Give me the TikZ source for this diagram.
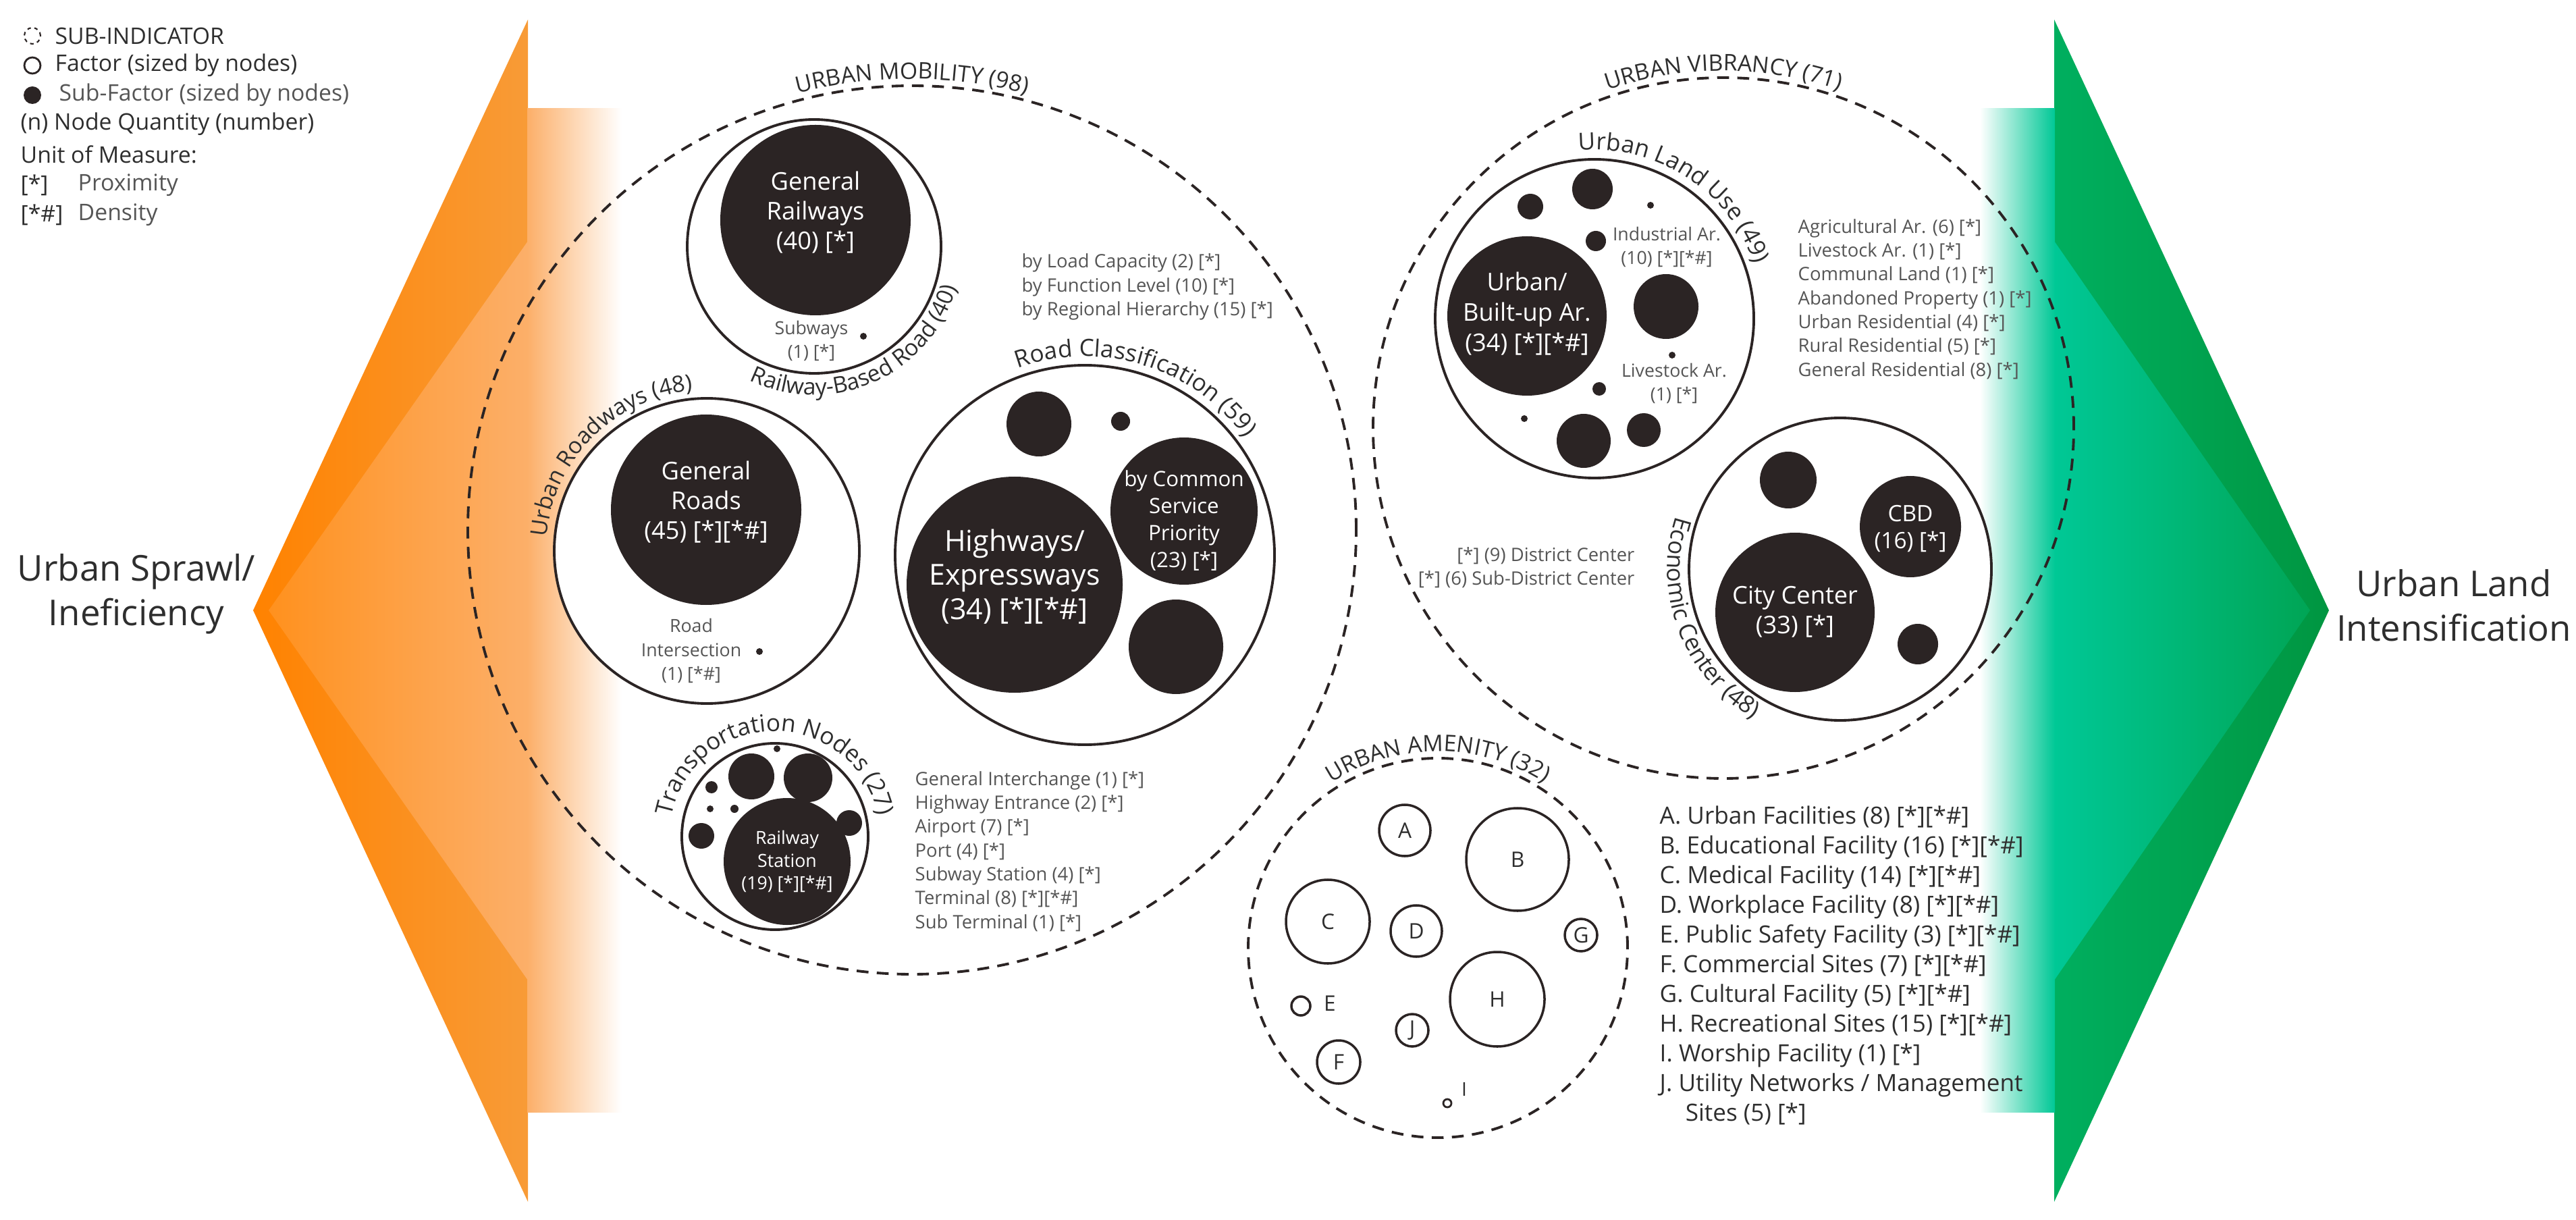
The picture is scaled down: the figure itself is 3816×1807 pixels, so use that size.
\documentclass[tikz,border=0pt]{standalone}
\usepackage{fontspec}
\setmainfont{Open Sans}
\usetikzlibrary{decorations.text}
\definecolor{blk}{HTML}{2B2424}
\definecolor{txt}{HTML}{2E2E2E}
\definecolor{gry}{HTML}{555555}
\newcommand\fsz[2]{\fontsize{#1pt}{#2pt}\selectfont}
\begin{document}
\begin{tikzpicture}[x=0.01cm,y=0.01cm,
  dsh/.style={dash pattern=on 5pt off 3.5pt, line width=1.1pt, draw=blk},
  fac/.style={line width=1.1pt, draw=blk, fill=white},
  sub/.style={fill=blk},
  wt/.style={text=white, align=center, inner sep=0pt},
  sm/.style={text=gry, align=center, inner sep=0pt, font=\fsz{7.6}{10}},
  lst/.style={text=gry, align=left, inner sep=0pt, font=\fsz{7.8}{10.05}, anchor=west},
  lg/.style={text=txt, inner sep=0pt, anchor=west, font=\fsz{9.6}{12}},
  ttl/.style={decorate, decoration={text along path, text align=center, text color=txt}}
]
\useasboundingbox (0,0) rectangle (3816,-1807);
% ---------- orange chevron ----------
\shade[left color={rgb,255:red,255;green,130;blue,0}, right color={rgb,255:red,248;green,155;blue,55}] (782,-29) -- (375,-904) -- (782,-1780) -- cycle;
\shade[left color={rgb,255:red,255;green,145;blue,30}, right color={rgb,255:red,252;green,175;blue,105}] (782,-357) -- (398,-904) -- (782,-1452) -- cycle;
\shade[left color={rgb,255:red,252;green,175;blue,105}, right color=white] (781,-161) rectangle (921,-1647);
% ---------- green chevron ----------
\shade[left color={rgb,255:red,0;green,175;blue,95}, right color={rgb,255:red,0;green,150;blue,65}] (3043,-29) -- (3450,-904) -- (3043,-1780) -- cycle;
\shade[left color={rgb,255:red,0;green,200;blue,150}, right color={rgb,255:red,0;green,165;blue,85}] (3043,-357) -- (3422,-904) -- (3043,-1452) -- cycle;
\shade[left color=white, right color={rgb,255:red,0;green,200;blue,150}] (2933,-161) rectangle (3044,-1647);
% ---------- side labels ----------
\node[text=txt, align=center, font=\fsz{15}{18.8}] (sprawl) at (202,-880) {Urban Sprawl/\\Ineficiency};
\node[text=txt, align=center, font=\fsz{15}{18.8}] (intens) at (3635,-897) {Urban Land\\Intensification};
% ---------- legend ----------
\draw[blk, line width=0.6pt, dash pattern=on 1.5pt off 1.5pt] (48,-53) circle[radius=12];
\draw[blk, line width=0.8pt] (48,-97) circle[radius=12];
\fill[blk] (48,-141) circle[radius=13];
\node[lg] (l1) at (81,-53) {SUB-INDICATOR};
\node[lg] (l2) at (81,-97) {Factor (sized by nodes)};
\node[lg, text=gry] (l3) at (87,-141) {Sub-Factor (sized by nodes)};
\node[lg] (l4) at (30,-184) {(n) Node Quantity (number)};
\node[lg] (l5) at (30,-229) {Unit of Measure:};
\node[lg] (l6) at (30,-274) {[*]};
\node[lg, text=gry] (l6b) at (115,-274) {Proximity};
\node[lg] (l7) at (30,-318) {[*\#]};
\node[lg, text=gry] (l7b) at (115,-318) {Density};
% ---------- URBAN MOBILITY ----------
\draw[dsh] (1351,-785) circle[radius=658];
\path[ttl, decoration={text={|\fsz{9.6}{11}|URBAN MOBILITY (98)}}] (1351,-785) ++(120:668) arc[start angle=120, end angle=60, radius=668];
% railway-based road
\draw[fac] (1206,-365) circle[radius=188];
\fill[sub] (1208,-326) circle[radius=141];
\node[wt, font=\fsz{10.3}{12.5}] (genrail) at (1208,-315) {General\\Railways\\(40) [*]};
\fill[sub] (1279,-498) circle[radius=5];
\node[sm] (subw) at (1202,-505) {Subways\\(1) [*]};
\path[ttl, decoration={text={|\fsz{9.6}{11}|Railway-Based Road (40)}}] (1206,-365) ++(-118:220) arc[start angle=-118, end angle=-14, radius=220];
% urban roadways
\draw[fac] (1047,-816) circle[radius=226];
\fill[sub] (1046,-755) circle[radius=141];
\node[wt, font=\fsz{10.3}{12.5}] (genroad) at (1046,-744) {General\\Roads\\(45) [*][*\#]};
\fill[sub] (1125,-965) circle[radius=5];
\node[sm] (rint) at (1024,-964) {Road\\Intersection\\(1) [*\#]};
\path[ttl, decoration={text={|\fsz{9.6}{11}|Urban Roadways (48)}}] (1047,-816) ++(178:238) arc[start angle=178, end angle=92, radius=238];
% road classification
\draw[fac] (1607,-822) circle[radius=281];
\fill[sub] (1503,-866) circle[radius=160];
\node[wt, font=\fsz{12.2}{14.4}] (hwy) at (1503,-854) {Highways/\\Expressways\\(34) [*][*\#]};
\fill[sub] (1754,-757) circle[radius=109];
\node[wt, font=\fsz{8.9}{11.3}] (csp) at (1754,-771) {by Common\\Service\\Priority\\(23) [*]};
\fill[sub] (1742,-958) circle[radius=70];
\fill[sub] (1539,-628) circle[radius=48];
\fill[sub] (1660,-624) circle[radius=14];
\node[lst] (rclist) at (1513,-425) {by Load Capacity (2) [*]\\by Function Level (10) [*]\\by Regional Hierarchy (15) [*]};
\path[ttl, decoration={text={|\fsz{10}{11}|Road Classification (59)}}] (1607,-822) ++(118:294) arc[start angle=118, end angle=28, radius=294];
% transportation nodes
\draw[fac] (1148,-1239) circle[radius=138];
\fill[sub] (1166,-1276) circle[radius=94];
\node[wt, font=\fsz{7.6}{9.5}] (rst) at (1166,-1276) {Railway\\Station\\(19) [*][*\#]};
\fill[sub] (1113,-1150) circle[radius=34];
\fill[sub] (1197,-1152) circle[radius=36];
\fill[sub] (1039,-1238) circle[radius=19];
\fill[sub] (1258,-1219) circle[radius=19];
\fill[sub] (1054,-1166) circle[radius=9];
\fill[sub] (1052,-1198) circle[radius=5];
\fill[sub] (1088,-1198) circle[radius=6];
\fill[sub] (1151,-1109) circle[radius=5];
\node[lst] (tnlist) at (1355,-1261) {General Interchange (1) [*]\\Highway Entrance (2) [*]\\Airport (7) [*]\\Port (4) [*]\\Subway Station (4) [*]\\Terminal (8) [*][*\#]\\Sub Terminal (1) [*]};
\path[ttl, decoration={text={|\fsz{10}{11}|Transportation Nodes (27)}}] (1148,-1239) ++(168:156) arc[start angle=168, end angle=12, radius=156];
% ---------- URBAN VIBRANCY ----------
\draw[dsh] (2553,-634) circle[radius=519];
\path[ttl, decoration={text={|\fsz{9.6}{11}|URBAN VIBRANCY (71)}}] (2553,-634) ++(120:529) arc[start angle=120, end angle=60, radius=529];
% urban land use
\draw[fac] (2362,-472) circle[radius=236];
\fill[sub] (2262,-468) circle[radius=118];
\node[wt, font=\fsz{10.3}{12.8}] (ubu) at (2262,-465) {Urban/\\Built-up Ar.\\(34) [*][*\#]};
\node[sm] (ind) at (2469,-366) {Industrial Ar.\\(10) [*][*\#]};
\node[sm] (liv) at (2480,-568) {Livestock Ar.\\(1) [*]};
\fill[sub] (2445,-304) circle[radius=5];
\fill[sub] (2477,-526) circle[radius=5];
\fill[sub] (2267,-306) circle[radius=19];
\fill[sub] (2359,-280) circle[radius=30];
\fill[sub] (2364,-357) circle[radius=15];
\fill[sub] (2468,-454) circle[radius=48];
\fill[sub] (2369,-576) circle[radius=10];
\fill[sub] (2258,-620) circle[radius=5];
\fill[sub] (2346,-653) circle[radius=40];
\fill[sub] (2435,-637) circle[radius=25];
\node[lst] (lulist) at (2663,-443) {Agricultural Ar. (6) [*]\\Livestock Ar. (1) [*]\\Communal Land (1) [*]\\Abandoned Property (1) [*]\\Urban Residential (4) [*]\\Rural Residential (5) [*]\\General Residential (8) [*]};
\path[ttl, decoration={text={|\fsz{10}{11}|Urban Land Use (49)}}] (2362,-472) ++(104:250) arc[start angle=104, end angle=10, radius=250];
% economic center
\draw[fac] (2726,-843) circle[radius=224];
\fill[sub] (2659,-907) circle[radius=118];
\node[wt, font=\fsz{10.3}{12.3}] (cc) at (2659,-906) {City Center\\(33) [*]};
\fill[sub] (2830,-780) circle[radius=75];
\node[wt, font=\fsz{9.5}{11.4}] (cbd) at (2830,-783) {CBD\\(16) [*]};
\fill[sub] (2649,-711) circle[radius=42];
\fill[sub] (2841,-954) circle[radius=30];
\node[lst, anchor=east, align=right] (dc) at (2422,-841) {[*] (9) District Center\\{}[*] (6) Sub-District Center};
\path[ttl, decoration={text={|\fsz{10}{11}|Economic Center (48)}}] (2726,-843) ++(150:256) arc[start angle=150, end angle=252, radius=256];
% ---------- URBAN AMENITY ----------
\draw[dsh] (2130,-1404) circle[radius=281];
\path[ttl, decoration={text={|\fsz{9.6}{11}|URBAN AMENITY (32)}}] (2130,-1404) ++(128:291) arc[start angle=128, end angle=52, radius=291];
\foreach \n/\x/\y/\r in {A/2081/1230/38, B/2248/1273/76, C/1967/1365/62, D/2098/1379/38, G/2342/1385/24, H/2218/1480/70, J/2092/1526/24, F/1983/1573/32}{
  \draw[blk, line width=1pt] (\x,-\y) circle[radius=\r];
  \node[text=txt, inner sep=0pt, font=\fsz{9}{11}] (am\n) at (\x,-\y) {\n};
}
\draw[blk, line width=1pt] (1927,-1490) circle[radius=14];
\node[text=txt, inner sep=0pt, font=\fsz{9}{11}] (amE) at (1970,-1486) {E};
\draw[blk, line width=0.8pt] (2144,-1634) circle[radius=6];
\node[text=txt, inner sep=0pt, font=\fsz{8}{10}] (amI) at (2169,-1613) {I};
\node[text=txt, align=left, inner sep=0pt, anchor=west, font=\fsz{10}{12.5}] (amlist) at (2458,-1430) {A. Urban Facilities (8) [*][*\#]\\B. Educational Facility (16) [*][*\#]\\C. Medical Facility (14) [*][*\#]\\D. Workplace Facility (8) [*][*\#]\\E. Public Safety Facility (3) [*][*\#]\\F. Commercial Sites (7) [*][*\#]\\G. Cultural Facility (5) [*][*\#]\\H. Recreational Sites (15) [*][*\#]\\I. Worship Facility (1) [*]\\J. Utility Networks / Management\\\hspace*{0.38cm}Sites (5) [*]};
\end{tikzpicture}
\end{document}
